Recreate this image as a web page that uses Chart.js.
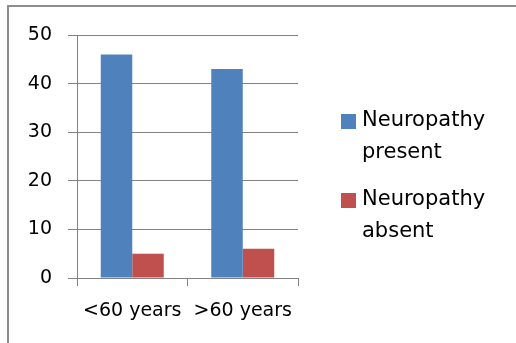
<!DOCTYPE html>
<html>
<head>
<meta charset="utf-8">
<script src="https://cdn.jsdelivr.net/npm/chart.js@4.4.0/dist/chart.umd.min.js"></script>
<style>
  html, body { margin: 0; padding: 0; background: #fff; }
  #wrap { position: relative; width: 516px; height: 343px; }
  #frame { position: absolute; left: 7px; top: 5px; right: 0; bottom: 0;
           border-left: 2px solid #8c8c8c; border-top: 2px solid #8c8c8c; }
  canvas { position: absolute; left: 0; top: 0; }
</style>
</head>
<body>
<div id="wrap">
  <div id="frame"></div>
  <canvas id="chart" width="516" height="343"></canvas>
</div>
<script>
const categories = ['<60 years', '>60 years'];
const seriesNames = ['Neuropathy present', 'Neuropathy absent'];
const presentValues = [46, 43];
const absentValues = [5, 6];
const yTicks = [0, 10, 20, 30, 40, 50];

const FONT = { family: 'DejaVu Sans', size: 19 };
const LEGEND_SIZE = 21;
const GRID = '#828282';

// legend drawn by hand so the names can wrap onto two lines
const sideLegend = {
    id: 'sideLegend',
    afterDraw(chart) {
        const ctx = chart.ctx;
        const x = 341;
        let y = 121;
        ctx.save();
        ctx.font = LEGEND_SIZE + 'px ' + FONT.family;
        ctx.textBaseline = 'middle';
        chart.data.datasets.forEach(ds => {
            ctx.fillStyle = ds.backgroundColor;
            ctx.fillRect(x, y - 7, 15, 15);
            ctx.fillStyle = '#000';
            const words = ds.label.split(' ');
            words.forEach((w, i) => ctx.fillText(w, x + 21, y + i * 32));
            y += 79;
        });
        ctx.restore();
    }
};

new Chart(document.getElementById('chart'), {
    type: 'bar',
    data: {
        labels: categories,
        datasets: [
            { label: seriesNames[0], data: presentValues, backgroundColor: '#4f81bd' },
            { label: seriesNames[1], data: absentValues, backgroundColor: '#c0504d' }
        ]
    },
    options: {
        responsive: false,
        animation: false,
        layout: { autoPadding: false, padding: { top: 35, right: 218, bottom: 0, left: 0 } },
        categoryPercentage: 0.57,
        barPercentage: 1,
        plugins: { legend: { display: false }, tooltip: { enabled: false } },
        scales: {
            x: {
                offset: true,
                grid: { offset: true, drawOnChartArea: false, color: GRID, tickLength: 8 },
                border: { color: GRID },
                ticks: { color: '#000', font: FONT, padding: 14, maxRotation: 0 },
                afterFit: s => { s.height = 343 - 278; }
            },
            y: {
                min: 0,
                max: 50,
                afterBuildTicks: s => { s.ticks = yTicks.map(v => ({ value: v })); },
                grid: { color: GRID, tickLength: 9 },
                border: { color: GRID },
                ticks: { color: '#000', font: FONT, padding: 16 },
                afterFit: s => { s.width = 77; }
            }
        }
    },
    plugins: [sideLegend]
});
</script>
</body>
</html>
